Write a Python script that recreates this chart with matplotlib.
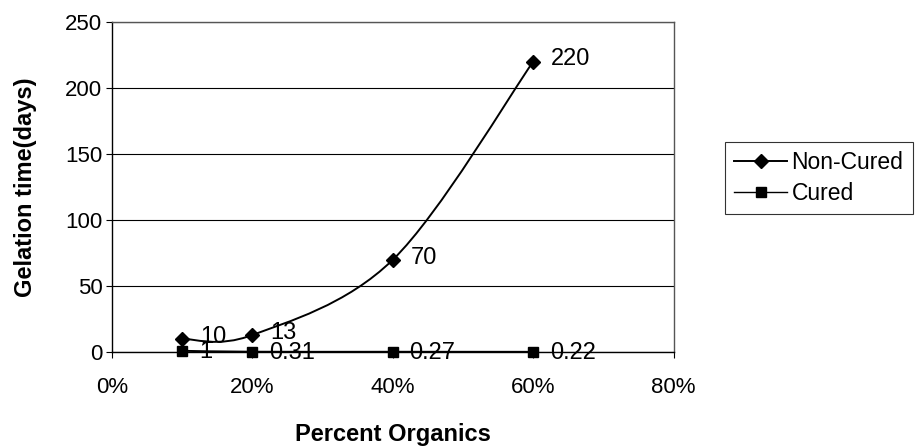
import numpy as np
import matplotlib.pyplot as plt
from matplotlib.path import Path
from matplotlib.patches import PathPatch
from matplotlib.ticker import FuncFormatter

plt.rcParams['font.family'] = ['Liberation Sans', 'DejaVu Sans']

# data
organics = [0.10, 0.20, 0.40, 0.60]
non_cured = [10, 13, 70, 220]
cured = [1, 0.31, 0.27, 0.22]
non_cured_labels = ["10", "13", "70", "220"]
cured_labels = ["1", "0.31", "0.27", "0.22"]


def smooth_path(xs, ys):
    # spreadsheet-style smoothing: cubic bezier with catmull-rom control points
    pts = np.column_stack([xs, ys]).astype(float)
    ext = np.vstack([pts[0], pts, pts[-1]])
    verts = [tuple(pts[0])]
    codes = [Path.MOVETO]
    for i in range(1, len(ext) - 2):
        p0, p1, p2, p3 = ext[i - 1], ext[i], ext[i + 1], ext[i + 2]
        c1 = p1 + (p2 - p0) / 6.0
        c2 = p2 - (p3 - p1) / 6.0
        verts += [tuple(c1), tuple(c2), tuple(p2)]
        codes += [Path.CURVE4] * 3
    return Path(verts, codes)


fig = plt.figure(figsize=(9.19, 4.48), dpi=100)
ax = fig.add_axes([0.122, 0.214, 0.611, 0.737])

for ys in (non_cured, cured):
    ax.add_patch(PathPatch(smooth_path(organics, ys), fill=False,
                           edgecolor='black', lw=1.4, zorder=3,
                           clip_on=False))

ax.plot(organics, non_cured, ls='none', marker='D', ms=7, color='black',
        zorder=4, clip_on=False)
ax.plot(organics, cured, ls='none', marker='s', ms=7, color='black', zorder=4,
        clip_on=False)

for x, y, t in zip(organics, non_cured, non_cured_labels):
    ax.annotate(t, (x, y), xytext=(13, 1.5), textcoords='offset points',
                ha='left', va='center', fontsize=17)
for x, y, t in zip(organics, cured, cured_labels):
    ax.annotate(t, (x, y), xytext=(12, -1), textcoords='offset points',
                ha='left', va='center', fontsize=17)

# legend handles (lines with marker in the middle)
h1, = ax.plot([], [], color='black', lw=1.4, marker='D', ms=7)
h2, = ax.plot([], [], color='black', lw=1.0, marker='s', ms=7)
leg = fig.legend([h1, h2], ['Non-Cured', 'Cured'], loc='upper left',
                 bbox_to_anchor=(0.789, 0.683), frameon=True, fancybox=False,
                 edgecolor='black', fontsize=16.5, handlelength=2.3,
                 handletextpad=0.2, borderpad=0.4, labelspacing=0.35,
                 borderaxespad=0)
leg.get_frame().set_linewidth(0.8)

ax.set_xlim(0, 0.8)
ax.set_ylim(0, 250)
ax.set_xticks([0, 0.2, 0.4, 0.6, 0.8])
ax.set_yticks([0, 50, 100, 150, 200, 250])
ax.xaxis.set_major_formatter(FuncFormatter(lambda v, p: f"{v * 100:.0f}%"))
ax.tick_params(axis='both', labelsize=16, direction='out', length=4,
               width=0.8, color='black')
ax.tick_params(axis='x', pad=14)
ax.tick_params(axis='y', pad=3)
ax.grid(axis='y', color='black', lw=0.8)
ax.set_axisbelow(True)
for s in ax.spines.values():
    s.set_color('#555555')
    s.set_linewidth(1.0)
ax.spines['left'].set_color('black')
ax.spines['bottom'].set_color('black')

ax.set_ylabel('Gelation time(days)', fontsize=17, fontweight='bold',
              labelpad=20)
ax.set_xlabel('Percent Organics', fontsize=17, fontweight='bold', labelpad=18)

fig.savefig('out.png', dpi=100)
